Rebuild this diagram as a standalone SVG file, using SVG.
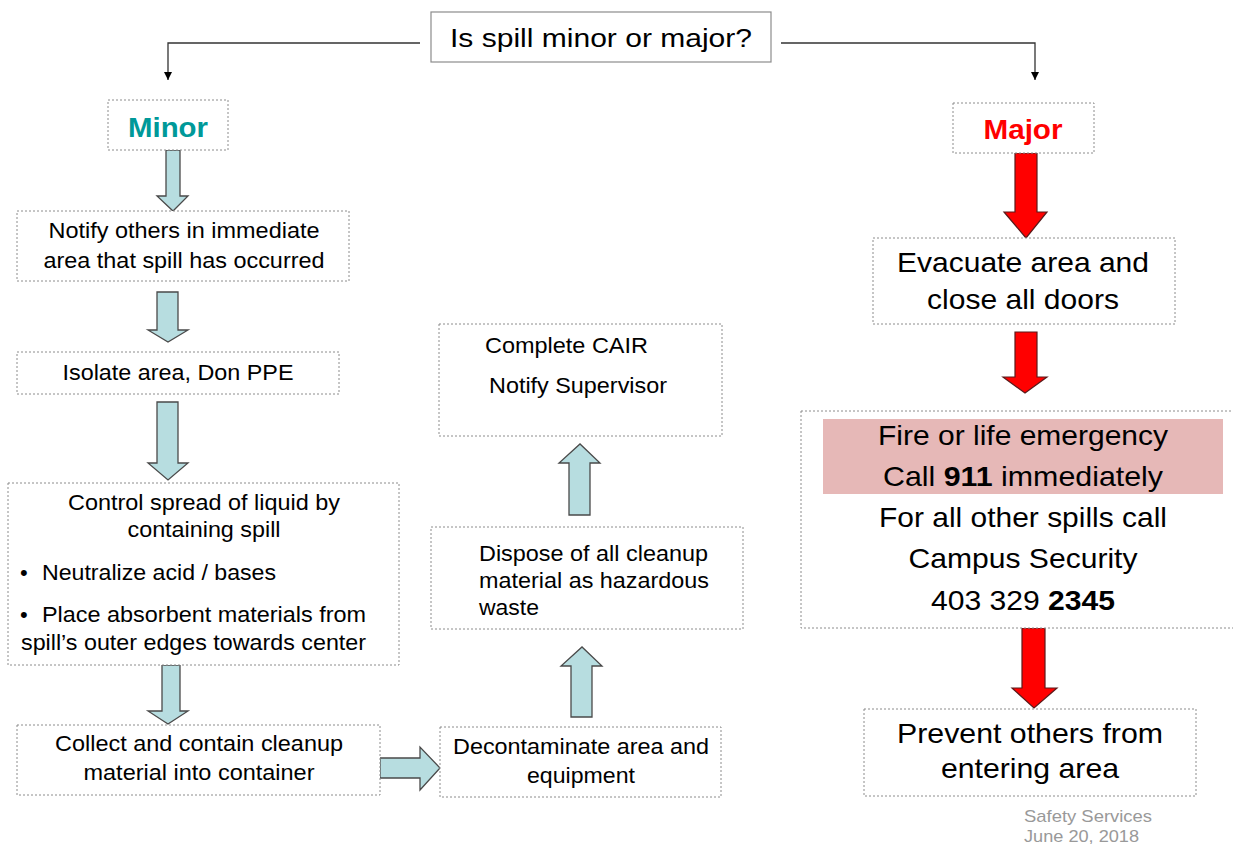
<svg xmlns="http://www.w3.org/2000/svg" width="1233" height="845" viewBox="0 0 1233 845">
<defs>
<style>
text{font-family:"Liberation Sans",Arial,sans-serif;fill:#000}
.box{fill:#fff;stroke:#8c8c8c;stroke-width:1;stroke-dasharray:2 2}
.solid{fill:#fff;stroke:#8c8c8c;stroke-width:1.2}
.blue{fill:#b7dde0;stroke:#4a4a4a;stroke-width:1.3}
.red{fill:#ff0000;stroke:#5a1a1a;stroke-width:1.2}
.conn{fill:none;stroke:#333;stroke-width:1.3}
.t21{font-size:22px}
.t27{font-size:28px}
.c{text-anchor:middle}
</style>
<marker id="ah" viewBox="0 0 10 10" refX="10" refY="5" markerWidth="8" markerHeight="8" markerUnits="userSpaceOnUse" orient="auto">
<path d="M0,0 L10,5 L0,10 z" fill="#000"/>
</marker>
</defs>
<rect width="1233" height="845" fill="#fff"/>

<g id="connectors">
<path class="conn" d="M420,43 H168 V80" marker-end="url(#ah)"/>
<path class="conn" d="M781,43 H1035 V80" marker-end="url(#ah)"/>
<path class="blue" d="M166,150 H180 V196 H188 L173,211 L157,196 H166 Z"/>
<path class="blue" d="M157,292 H178 V330 H188 L168,342 L148,330 H157 Z"/>
<path class="blue" d="M157,402 H178 V463 H188 L168,480 L148,463 H157 Z"/>
<path class="blue" d="M162,665 H180 V711 H188 L168,724 L148,711 H162 Z"/>
<path class="blue" d="M380,758 H420 V747 L440,768 L420,790 V778 H380 Z"/>
<path class="blue" d="M571,717 V666 H561 L582,647 L602,666 H592 V717 Z"/>
<path class="blue" d="M569,515 V463 H559 L580,444 L600,463 H590 V515 Z"/>
<path class="red" d="M1015,153 H1037 V212 H1047 L1026,238 L1004,212 H1015 Z"/>
<path class="red" d="M1015,332 H1037 V377 H1047 L1025,393 L1003,377 H1015 Z"/>
<path class="red" d="M1022,628 H1045 V688 H1057 L1034,708 L1012,688 H1022 Z"/>
</g>

<g id="question">
<rect class="solid" x="431" y="12" width="340" height="50"/>
<text class="c" x="601" y="47" font-size="26" textLength="302" lengthAdjust="spacingAndGlyphs">Is spill minor or major?</text>
</g>

<g id="minor">
<rect class="box" x="108" y="100" width="120" height="50"/>
<text class="c" x="168" y="137" font-size="28" font-weight="bold" style="fill:#009999" textLength="80" lengthAdjust="spacingAndGlyphs">Minor</text>
</g>

<g id="major">
<rect class="box" x="953" y="103" width="141" height="50"/>
<text class="c" x="1023" y="139" font-size="28" font-weight="bold" style="fill:#ff0000" textLength="79" lengthAdjust="spacingAndGlyphs">Major</text>
</g>

<g id="notify">
<rect class="box" x="17" y="211" width="332" height="70"/>
<text class="c t21" x="184" y="238" textLength="271" lengthAdjust="spacingAndGlyphs">Notify others in immediate</text>
<text class="c t21" x="184" y="268" textLength="281" lengthAdjust="spacingAndGlyphs">area that spill has occurred</text>
</g>

<g id="isolate">
<rect class="box" x="17" y="352" width="322" height="42"/>
<text class="c t21" x="178" y="380" textLength="231" lengthAdjust="spacingAndGlyphs">Isolate area, Don PPE</text>
</g>

<g id="control">
<rect class="box" x="8" y="483" width="391" height="182"/>
<text class="c t21" x="204" y="510" textLength="272" lengthAdjust="spacingAndGlyphs">Control spread of liquid by</text>
<text class="c t21" x="204" y="537" textLength="153" lengthAdjust="spacingAndGlyphs">containing spill</text>
<text class="t21" x="20" y="580">•</text>
<text class="t21" x="42" y="580" textLength="234" lengthAdjust="spacingAndGlyphs">Neutralize acid / bases</text>
<text class="t21" x="20" y="622">•</text>
<text class="t21" x="42" y="622" textLength="324" lengthAdjust="spacingAndGlyphs">Place absorbent materials from</text>
<text class="t21" x="21" y="650" textLength="345" lengthAdjust="spacingAndGlyphs">spill’s outer edges towards center</text>
</g>

<g id="collect">
<rect class="box" x="17" y="725" width="363" height="70"/>
<text class="c t21" x="199" y="751" textLength="288" lengthAdjust="spacingAndGlyphs">Collect and contain cleanup</text>
<text class="c t21" x="199" y="780" textLength="231" lengthAdjust="spacingAndGlyphs">material into container</text>
</g>

<g id="decontaminate">
<rect class="box" x="440" y="727" width="281" height="70"/>
<text class="c t21" x="581" y="754" textLength="256" lengthAdjust="spacingAndGlyphs">Decontaminate area and</text>
<text class="c t21" x="581" y="783" textLength="108" lengthAdjust="spacingAndGlyphs">equipment</text>
</g>

<g id="dispose">
<rect class="box" x="431" y="527" width="312" height="102"/>
<text class="t21" x="479" y="561" textLength="229" lengthAdjust="spacingAndGlyphs">Dispose of all cleanup</text>
<text class="t21" x="479" y="588" textLength="230" lengthAdjust="spacingAndGlyphs">material as hazardous</text>
<text class="t21" x="479" y="615" textLength="60" lengthAdjust="spacingAndGlyphs">waste</text>
</g>

<g id="complete">
<rect class="box" x="439" y="324" width="283" height="112"/>
<text class="t21" x="485" y="353" textLength="163" lengthAdjust="spacingAndGlyphs">Complete CAIR</text>
<text class="t21" x="489" y="393" textLength="178" lengthAdjust="spacingAndGlyphs">Notify Supervisor</text>
</g>

<g id="evacuate">
<rect class="box" x="873" y="238" width="302" height="86"/>
<text class="c t27" x="1023" y="272" textLength="252" lengthAdjust="spacingAndGlyphs">Evacuate area and</text>
<text class="c t27" x="1023" y="309" textLength="192" lengthAdjust="spacingAndGlyphs">close all doors</text>
</g>

<g id="emergency">
<rect class="box" x="801" y="411" width="440" height="217"/>
<rect x="823" y="419" width="400" height="75" fill="#e6b8b7"/>
<text class="c t27" x="1023" y="445" textLength="290" lengthAdjust="spacingAndGlyphs">Fire or life emergency</text>
<text class="c t27" x="1023" y="486" textLength="280" lengthAdjust="spacingAndGlyphs">Call <tspan font-weight="bold">911</tspan> immediately</text>
<text class="c t27" x="1023" y="527" textLength="288" lengthAdjust="spacingAndGlyphs">For all other spills call</text>
<text class="c t27" x="1023" y="568" textLength="229" lengthAdjust="spacingAndGlyphs">Campus Security</text>
<text class="c t27" x="1023" y="610" textLength="184" lengthAdjust="spacingAndGlyphs">403 329 <tspan font-weight="bold">2345</tspan></text>
</g>

<g id="prevent">
<rect class="box" x="864" y="709" width="332" height="87"/>
<text class="c" x="1030" y="743" font-size="28" textLength="266" lengthAdjust="spacingAndGlyphs">Prevent others from</text>
<text class="c" x="1030" y="778" font-size="28" textLength="178" lengthAdjust="spacingAndGlyphs">entering area</text>
</g>

<g id="footer">
<text x="1024" y="822" font-size="17" style="fill:#999" textLength="128" lengthAdjust="spacingAndGlyphs">Safety Services</text>
<text x="1024" y="842" font-size="17" style="fill:#999" textLength="115" lengthAdjust="spacingAndGlyphs">June 20, 2018</text>
</g>
</svg>
